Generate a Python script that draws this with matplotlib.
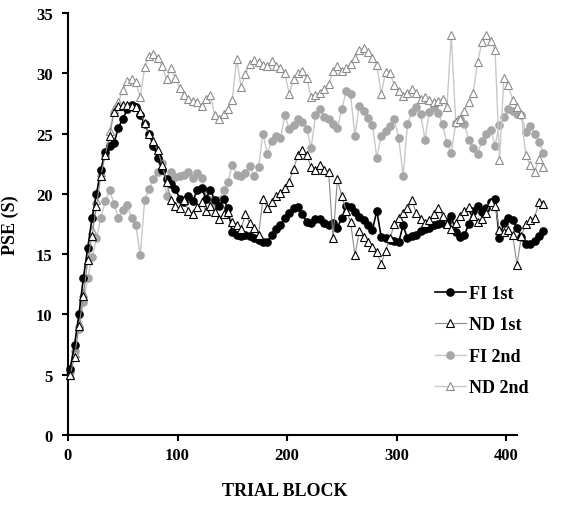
import matplotlib
matplotlib.use("Agg")
import matplotlib.pyplot as plt

plt.rcParams["font.family"] = ["Liberation Serif", "DejaVu Serif"]
plt.rcParams["font.weight"] = "bold"

# trial block positions (one value every 4 blocks)
blocks = list(range(2, 438, 4))

fi_1st = [5.5, 7.5, 10.0, 13.0, 15.5, 18.0, 20.0, 22.0, 23.5, 24.0,
          24.2, 25.5, 26.2, 27.0, 27.4, 27.2, 26.5, 25.8, 25.0, 24.0,
          23.0, 22.0, 21.2, 20.8, 20.4, 19.6, 19.3, 19.8, 19.4, 20.3,
          20.5, 19.6, 20.3, 19.5, 19.0, 19.6, 18.8, 16.8, 16.6, 16.5,
          16.6, 16.5, 16.3, 16.2, 16.0, 16.0, 16.6, 17.1, 17.4, 18.0,
          18.4, 18.8, 18.9, 18.3, 17.7, 17.6, 17.9, 17.9, 17.6, 17.4,
          17.6, 17.2, 18.0, 19.0, 18.9, 18.5, 18.1, 17.8, 17.4, 17.0,
          18.6, 16.4, 16.3, 16.2, 16.1, 16.0, 17.4, 16.3, 16.5, 16.6,
          16.9, 17.1, 17.2, 17.4, 17.5, 17.6, 17.7, 18.2, 16.8, 16.4,
          16.6, 17.5, 18.6, 19.0, 18.5, 18.8, 19.3, 19.6, 16.3, 17.6,
          18.0, 17.8, 17.2, 16.4, 15.8, 15.8, 16.1, 16.5, 16.9]

nd_1st = [5.0, 6.5, 9.0, 11.5, 14.5, 16.5, 19.0, 21.5, 23.2, 24.8,
          26.8, 27.3, 27.4, 27.4, 27.3, 27.2, 26.8, 25.9, 25.0, 24.4,
          23.6, 22.4, 21.0, 19.5, 19.0, 18.8, 19.5, 18.6, 18.3, 18.9,
          19.3, 18.6, 19.0, 18.5, 17.9, 18.3, 18.5, 17.7, 17.4, 17.1,
          18.3, 17.6, 17.2, 16.6, 19.6, 18.8, 19.3, 19.8, 20.1, 20.5,
          21.0, 22.1, 23.2, 23.6, 23.2, 22.2, 22.0, 22.4, 22.0, 21.8,
          16.3, 21.2, 19.8, 18.6, 17.7, 14.9, 16.9, 16.4, 16.0, 15.6,
          15.2, 14.2, 15.3, 16.3, 17.5, 18.0, 18.4, 18.8, 19.5, 18.4,
          17.9, 17.6, 17.8, 18.3, 18.8, 18.2, 17.5, 17.1, 17.6, 18.2,
          18.6, 18.9, 18.2, 17.7, 17.9, 18.4, 19.3, 19.0, 17.0, 16.8,
          17.0, 16.6, 14.1, 16.5, 17.5, 17.8, 18.0, 19.3, 19.2]

fi_2nd = [5.2, 7.0, 8.8, 11.0, 13.0, 14.8, 16.3, 18.0, 19.4, 20.3,
          19.2, 18.0, 18.7, 19.1, 18.0, 17.4, 14.9, 19.5, 20.4, 21.2,
          21.8, 22.6, 19.8, 21.8, 21.4, 21.5, 21.6, 21.8, 21.3, 21.7,
          21.3, 20.2, 19.5, 19.0, 19.5, 20.3, 21.0, 22.4, 21.6, 21.5,
          21.7, 22.3, 21.5, 22.2, 25.0, 23.3, 24.4, 24.8, 24.6, 26.5,
          25.4, 25.7, 26.2, 26.0, 25.4, 23.8, 26.5, 27.0, 26.4, 26.2,
          25.8, 25.5, 27.0, 28.5, 28.3, 24.8, 27.3, 26.9, 26.3, 25.7,
          23.0, 24.8, 25.2, 25.6, 26.2, 24.6, 21.5, 25.8, 26.8, 27.2,
          26.6, 24.5, 26.8, 27.2, 26.7, 25.8, 24.2, 23.4, 25.9, 26.2,
          25.8, 24.5, 23.8, 23.3, 24.4, 25.0, 25.3, 24.0, 25.7, 26.4,
          27.0, 26.9, 26.6, 26.5, 25.1, 25.6, 25.0, 24.3, 23.4]

nd_2nd = [5.0, 6.8, 9.3, 11.8, 14.5, 17.0, 19.5, 21.8, 23.5, 25.2,
          27.0, 27.6, 28.6, 29.4, 29.5, 29.3, 28.0, 30.5, 31.4, 31.6,
          31.3, 30.6, 29.5, 30.4, 29.6, 28.8, 28.2, 27.9, 27.7, 27.6,
          27.3, 27.9, 28.2, 26.5, 26.2, 26.6, 27.0, 27.8, 31.2, 28.9,
          29.9, 30.8, 31.1, 30.9, 30.7, 30.6, 31.0, 30.6, 30.4, 30.0,
          28.3, 29.5, 30.0, 30.2, 29.6, 28.0, 28.2, 28.4, 28.7, 29.1,
          30.2, 30.6, 30.2, 30.4, 30.8, 31.3, 31.9, 32.1, 31.8, 31.3,
          30.7, 28.3, 30.1, 30.0, 29.0, 28.5, 28.1, 28.4, 28.7, 28.4,
          27.9, 28.0, 27.8, 27.6, 27.7, 27.9, 27.2, 33.2, 26.0, 26.2,
          26.9, 27.6, 28.4, 30.9, 32.6, 33.2, 32.7, 31.9, 22.8, 29.6,
          29.0, 27.8, 27.2, 26.6, 23.2, 22.4, 21.8, 22.9, 22.2]

fig = plt.figure(figsize=(5.63, 5.06), dpi=100)
ax = fig.add_axes([68 / 563, 70 / 506, 449 / 563, 422 / 506])

l3, = ax.plot(blocks, fi_2nd, color="#c8c8c8", lw=1.0, marker="o", ms=5.2,
              mfc="#a6a6a6", mec="#a6a6a6", clip_on=False, zorder=2, label="FI 2nd")
l4, = ax.plot(blocks, nd_2nd, color="#c8c8c8", lw=1.0, marker="^", ms=6,
              mfc="white", mec="#8c8c8c", mew=0.8, clip_on=False, zorder=3, label="ND 2nd")
l1, = ax.plot(blocks, fi_1st, color="black", lw=1.2, marker="o", ms=5.2,
              mfc="black", mec="black", clip_on=False, zorder=4, label="FI 1st")
l2, = ax.plot(blocks, nd_1st, color="#8c8c8c", lw=0.8, marker="^", ms=6,
              mfc="white", mec="black", mew=0.8, clip_on=False, zorder=5, label="ND 1st")

ax.set_xlim(0, 410)
ax.set_ylim(0, 35)
ax.set_xticks([0, 100, 200, 300, 400])
ax.set_yticks(range(0, 36, 5))

for side in ["top", "right"]:
    ax.spines[side].set_visible(False)
for side in ["left", "bottom"]:
    ax.spines[side].set_linewidth(1.5)

ax.tick_params(axis="both", direction="out", length=4, width=1.5, labelsize=12)
ax.tick_params(axis="y", pad=7)
ax.tick_params(axis="x", pad=5)

ax.set_xlabel("TRIAL BLOCK", fontsize=13, fontweight="bold")
ax.xaxis.set_label_coords((285 - 68) / 449, -0.112)
ax.set_ylabel("PSE (S)", fontsize=13, fontweight="bold")
ax.yaxis.set_label_coords(-0.11, 0.5)

ax.legend(handles=[l1, l2, l3, l4], loc="upper left", frameon=False, fontsize=13,
          bbox_to_anchor=(435 / 563, 1 - 286 / 506), bbox_transform=fig.transFigure,
          borderaxespad=0, borderpad=0, labelspacing=0.8, handlelength=1.7,
          handletextpad=0.2)

fig.savefig("out.png", dpi=100)
